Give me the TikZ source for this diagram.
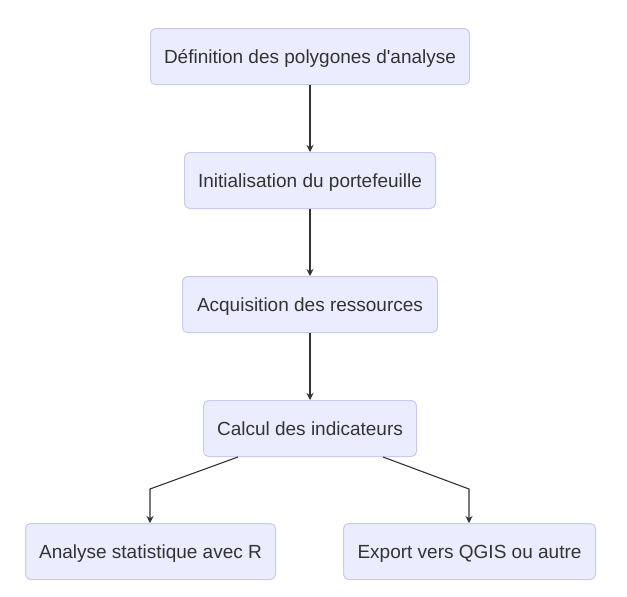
\documentclass[tikz,border=0pt]{standalone}
\usepackage{fontspec}
\setmainfont{Liberation Sans}
\usetikzlibrary{arrows.meta}
\definecolor{boxfill}{HTML}{ECECFF}
\definecolor{boxdraw}{HTML}{C9C9F2}
\definecolor{txt}{HTML}{333333}
\definecolor{lin}{HTML}{333333}
\tikzset{
  box/.style={draw=boxdraw, fill=boxfill, line width=1pt, rounded corners=5pt,
    text=txt, font=\fontsize{19pt}{22pt}\selectfont, inner sep=0pt,
    text height=13.6pt, text depth=0pt, anchor=north west},
  arr/.style={draw=lin, line width=1.1pt, -{Stealth[length=7pt,width=7pt]}}
}
\begin{document}
\begin{tikzpicture}[x=1pt,y=-1pt]
\useasboundingbox (0,0) rectangle (627,597);
\node[box, minimum width=319pt, minimum height=56pt] (def) at (150,28) {Définition des polygones d\textquotesingle analyse};
\node[box, minimum width=251pt, minimum height=56pt] (ini) at (184,152) {Initialisation du portefeuille};
\node[box, minimum width=255pt, minimum height=56pt] (acq) at (182,276) {Acquisition des ressources};
\node[box, minimum width=213pt, minimum height=56pt] (cal) at (203,400) {Calcul des indicateurs};
\node[box, minimum width=250pt, minimum height=56pt] (ana) at (25,523) {Analyse statistique avec R};
\node[box, minimum width=252pt, minimum height=56pt] (exp) at (343,523) {Export vers QGIS ou autre};
\coordinate (e1) at (150,489);
\coordinate (e2) at (469,489);
\draw[arr] (def) -- (ini);
\draw[arr] (ini) -- (acq);
\draw[arr] (acq) -- (cal);
\draw[arr] ([xshift=-72pt]cal.south) -- (e1) -- (ana.north -| e1);
\draw[arr] ([xshift=73pt]cal.south) -- (e2) -- (exp.north -| e2);
\end{tikzpicture}
\end{document}
